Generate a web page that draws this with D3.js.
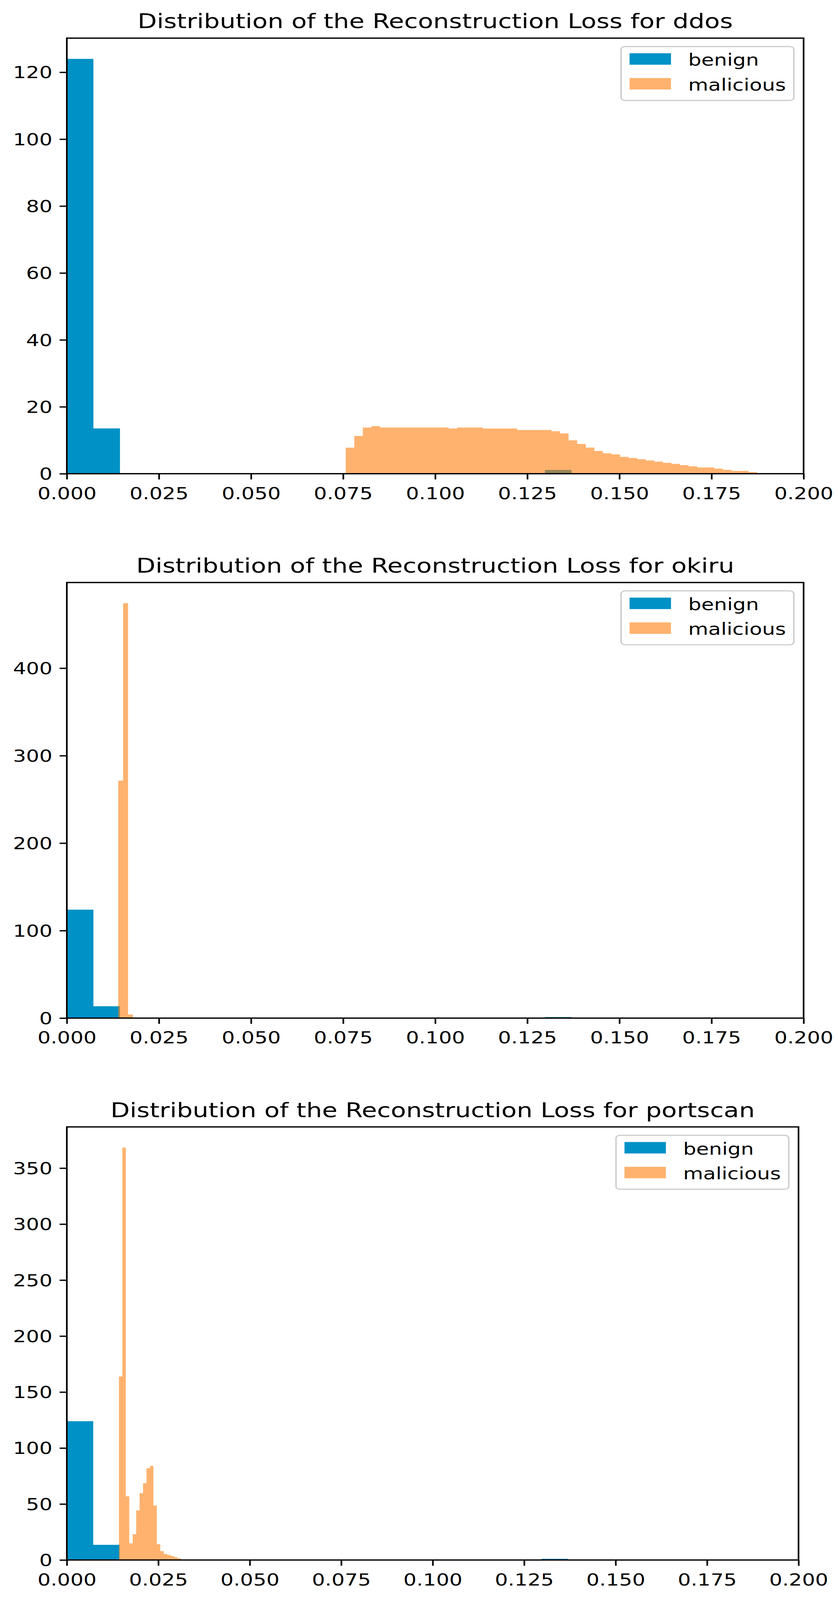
<!DOCTYPE html>
<html>
<head>
<meta charset="utf-8">
<script src="https://cdn.jsdelivr.net/npm/d3@7"></script>
<style>
  html, body { margin: 0; padding: 0; background: #ffffff; overflow: hidden; width: 100%; height: 100%; }
  svg { display: block; width: 100vw; height: 100vh; }
  text { font-family: "DejaVu Sans", sans-serif; fill: #000; }
</style>
</head>
<body>
<svg id="chart" viewBox="0 0 2144 5161" preserveAspectRatio="none"></svg>
<script>
// ---------------- DATA ----------------
const datasets = ["ddos", "okiru", "portscan"];
const seriesNames = ["benign", "malicious"];

const xTicks = [0, 0.025, 0.05, 0.075, 0.1, 0.125, 0.15, 0.175, 0.2];
const xTickLabels = ["0.000", "0.025", "0.050", "0.075", "0.100", "0.125", "0.150", "0.175", "0.200"];

const ddosYTicks = [0, 20, 40, 60, 80, 100, 120];
const okiruYTicks = [0, 100, 200, 300, 400];
const portscanYTicks = [0, 50, 100, 150, 200, 250, 300, 350];

// benign histogram (density), identical in all three panels
const benignBinStart = 0;
const benignBinWidth = 0.00721;
const benignDensity = [124.0, 13.53, 0, 0, 0, 0, 0, 0, 0, 0, 0, 0, 0, 0, 0, 0, 0, 0, 1.13];

// malicious histograms (density)
const ddosBinStart = 0.0757;
const ddosBinWidth = 0.002327;
const ddosMalicious = [7.8, 11.3, 13.8, 14.2, 13.8, 13.8, 13.8, 13.8, 13.8, 13.8, 13.8, 13.8,
  13.5, 13.8, 13.8, 13.8, 13.5, 13.5, 13.5, 13.5, 13.06, 13.06, 13.06, 13.06, 12.7, 12.04,
  9.98, 8.9, 7.83, 6.8, 6.1, 5.76, 5.05, 4.7, 4.34, 3.97, 3.6, 3.27, 2.93, 2.56, 2.22,
  1.85, 1.85, 1.51, 1.17, 0.83, 0.83, 0.49];

const okiruBinStart = 0.01395;
const okiruBinWidth = 0.001333;
const okiruMalicious = [271.4, 474.2, 4.0];

const portscanBinStart = 0.01424;
const portscanBinWidth = 0.000942;
const portscanMalicious = [163.9, 368.4, 56.9, 14.9, 23.1, 44.3, 59.7, 68.6, 81.9, 84.0,
  48.6, 14.1, 7.9, 5.4, 4.5, 3.6, 2.5, 1.5];

// ---------------- LAYOUT ----------------
const panels = [
  { name: datasets[0], yTicks: ddosYTicks, mStart: ddosBinStart, mWidth: ddosBinWidth, mal: ddosMalicious,
    left: 171, right: 2056, top: 123, bottom: 1528 },
  { name: datasets[1], yTicks: okiruYTicks, mStart: okiruBinStart, mWidth: okiruBinWidth, mal: okiruMalicious,
    left: 171, right: 2056, top: 1879, bottom: 3284 },
  { name: datasets[2], yTicks: portscanYTicks, mStart: portscanBinStart, mWidth: portscanBinWidth, mal: portscanMalicious,
    left: 171, right: 2043, top: 3635, bottom: 5032 }
];

const BLUE = "#0091c6";
const ORANGE = "#ff7f0e";
const TICK_FONT = 52.8;
const TITLE_FONT = 64;
const LW = 4.2;
const TICK_LEN = 18.5;

const svg = d3.select("#chart");

function histPoints(start, width, vals) {
  const pts = vals.map((v, i) => ({ x: start + i * width, v: v }));
  pts.push({ x: start + vals.length * width, v: 0 });
  return pts;
}

panels.forEach(p => {
  const g = svg.append("g");
  const all = benignDensity.concat(p.mal);
  const ymax = d3.max(all) * 1.05;
  const x = d3.scaleLinear().domain([0, 0.2]).range([p.left, p.right]);
  const y = d3.scaleLinear().domain([0, ymax]).range([p.bottom, p.top]);

  const area = d3.area()
    .curve(d3.curveStepAfter)
    .x(d => x(d.x))
    .y0(y(0))
    .y1(d => y(d.v));

  // benign
  g.append("path")
    .attr("d", area(histPoints(benignBinStart, benignBinWidth, benignDensity)))
    .attr("fill", BLUE);
  // malicious (alpha 0.6)
  g.append("path")
    .attr("d", area(histPoints(p.mStart, p.mWidth, p.mal)))
    .attr("fill", ORANGE)
    .attr("fill-opacity", 0.6);

  // spines
  g.append("rect")
    .attr("x", p.left).attr("y", p.top)
    .attr("width", p.right - p.left).attr("height", p.bottom - p.top)
    .attr("fill", "none").attr("stroke", "#000").attr("stroke-width", LW);

  // x axis
  const xAxis = d3.axisBottom(x)
    .tickValues(xTicks)
    .tickFormat((d, i) => xTickLabels[i])
    .tickSize(TICK_LEN)
    .tickPadding(0);
  const gx = g.append("g").attr("transform", `translate(0,${p.bottom})`).call(xAxis);
  gx.select(".domain").remove();
  gx.selectAll(".tick line").attr("stroke", "#000").attr("stroke-width", LW);
  gx.selectAll(".tick text")
    .attr("y", 82).attr("dy", null)
    .attr("font-size", TICK_FONT)
    .attr("font-family", "DejaVu Sans")
    .attr("fill", "#000");

  // y axis
  const yAxis = d3.axisLeft(y)
    .tickValues(p.yTicks)
    .tickFormat(d3.format("d"))
    .tickSize(TICK_LEN)
    .tickPadding(0);
  const gy = g.append("g").attr("transform", `translate(${p.left},0)`).call(yAxis);
  gy.select(".domain").remove();
  gy.selectAll(".tick line").attr("stroke", "#000").attr("stroke-width", LW);
  gy.selectAll(".tick text")
    .attr("x", -37).attr("dy", null).attr("y", 19)
    .attr("font-size", TICK_FONT)
    .attr("font-family", "DejaVu Sans")
    .attr("fill", "#000");

  // title
  g.append("text")
    .attr("x", (p.left + p.right) / 2)
    .attr("y", p.top - 31.7)
    .attr("text-anchor", "middle")
    .attr("font-size", TITLE_FONT)
    .text("Distribution of the Reconstruction Loss for " + p.name);

  // legend
  const bw = 442, bh = 174;
  const bx = p.right - 25 - bw, by = p.top + 27;
  const lg = g.append("g");
  lg.append("rect")
    .attr("x", bx).attr("y", by).attr("width", bw).attr("height", bh)
    .attr("rx", 10).attr("ry", 10)
    .attr("fill", "#fff").attr("fill-opacity", 0.8)
    .attr("stroke", "#d0d0d0").attr("stroke-width", 4);
  const colors = [BLUE, ORANGE];
  const opac = [1, 0.6];
  seriesNames.forEach((s, i) => {
    lg.append("rect")
      .attr("x", bx + 21.7).attr("y", by + 21.7 + i * 80)
      .attr("width", 106).attr("height", 37)
      .attr("fill", colors[i]).attr("fill-opacity", opac[i]);
    lg.append("text")
      .attr("x", bx + 171.7).attr("y", by + 62 + i * 80)
      .attr("font-size", TICK_FONT)
      .text(s);
  });
});
</script>
</body>
</html>
